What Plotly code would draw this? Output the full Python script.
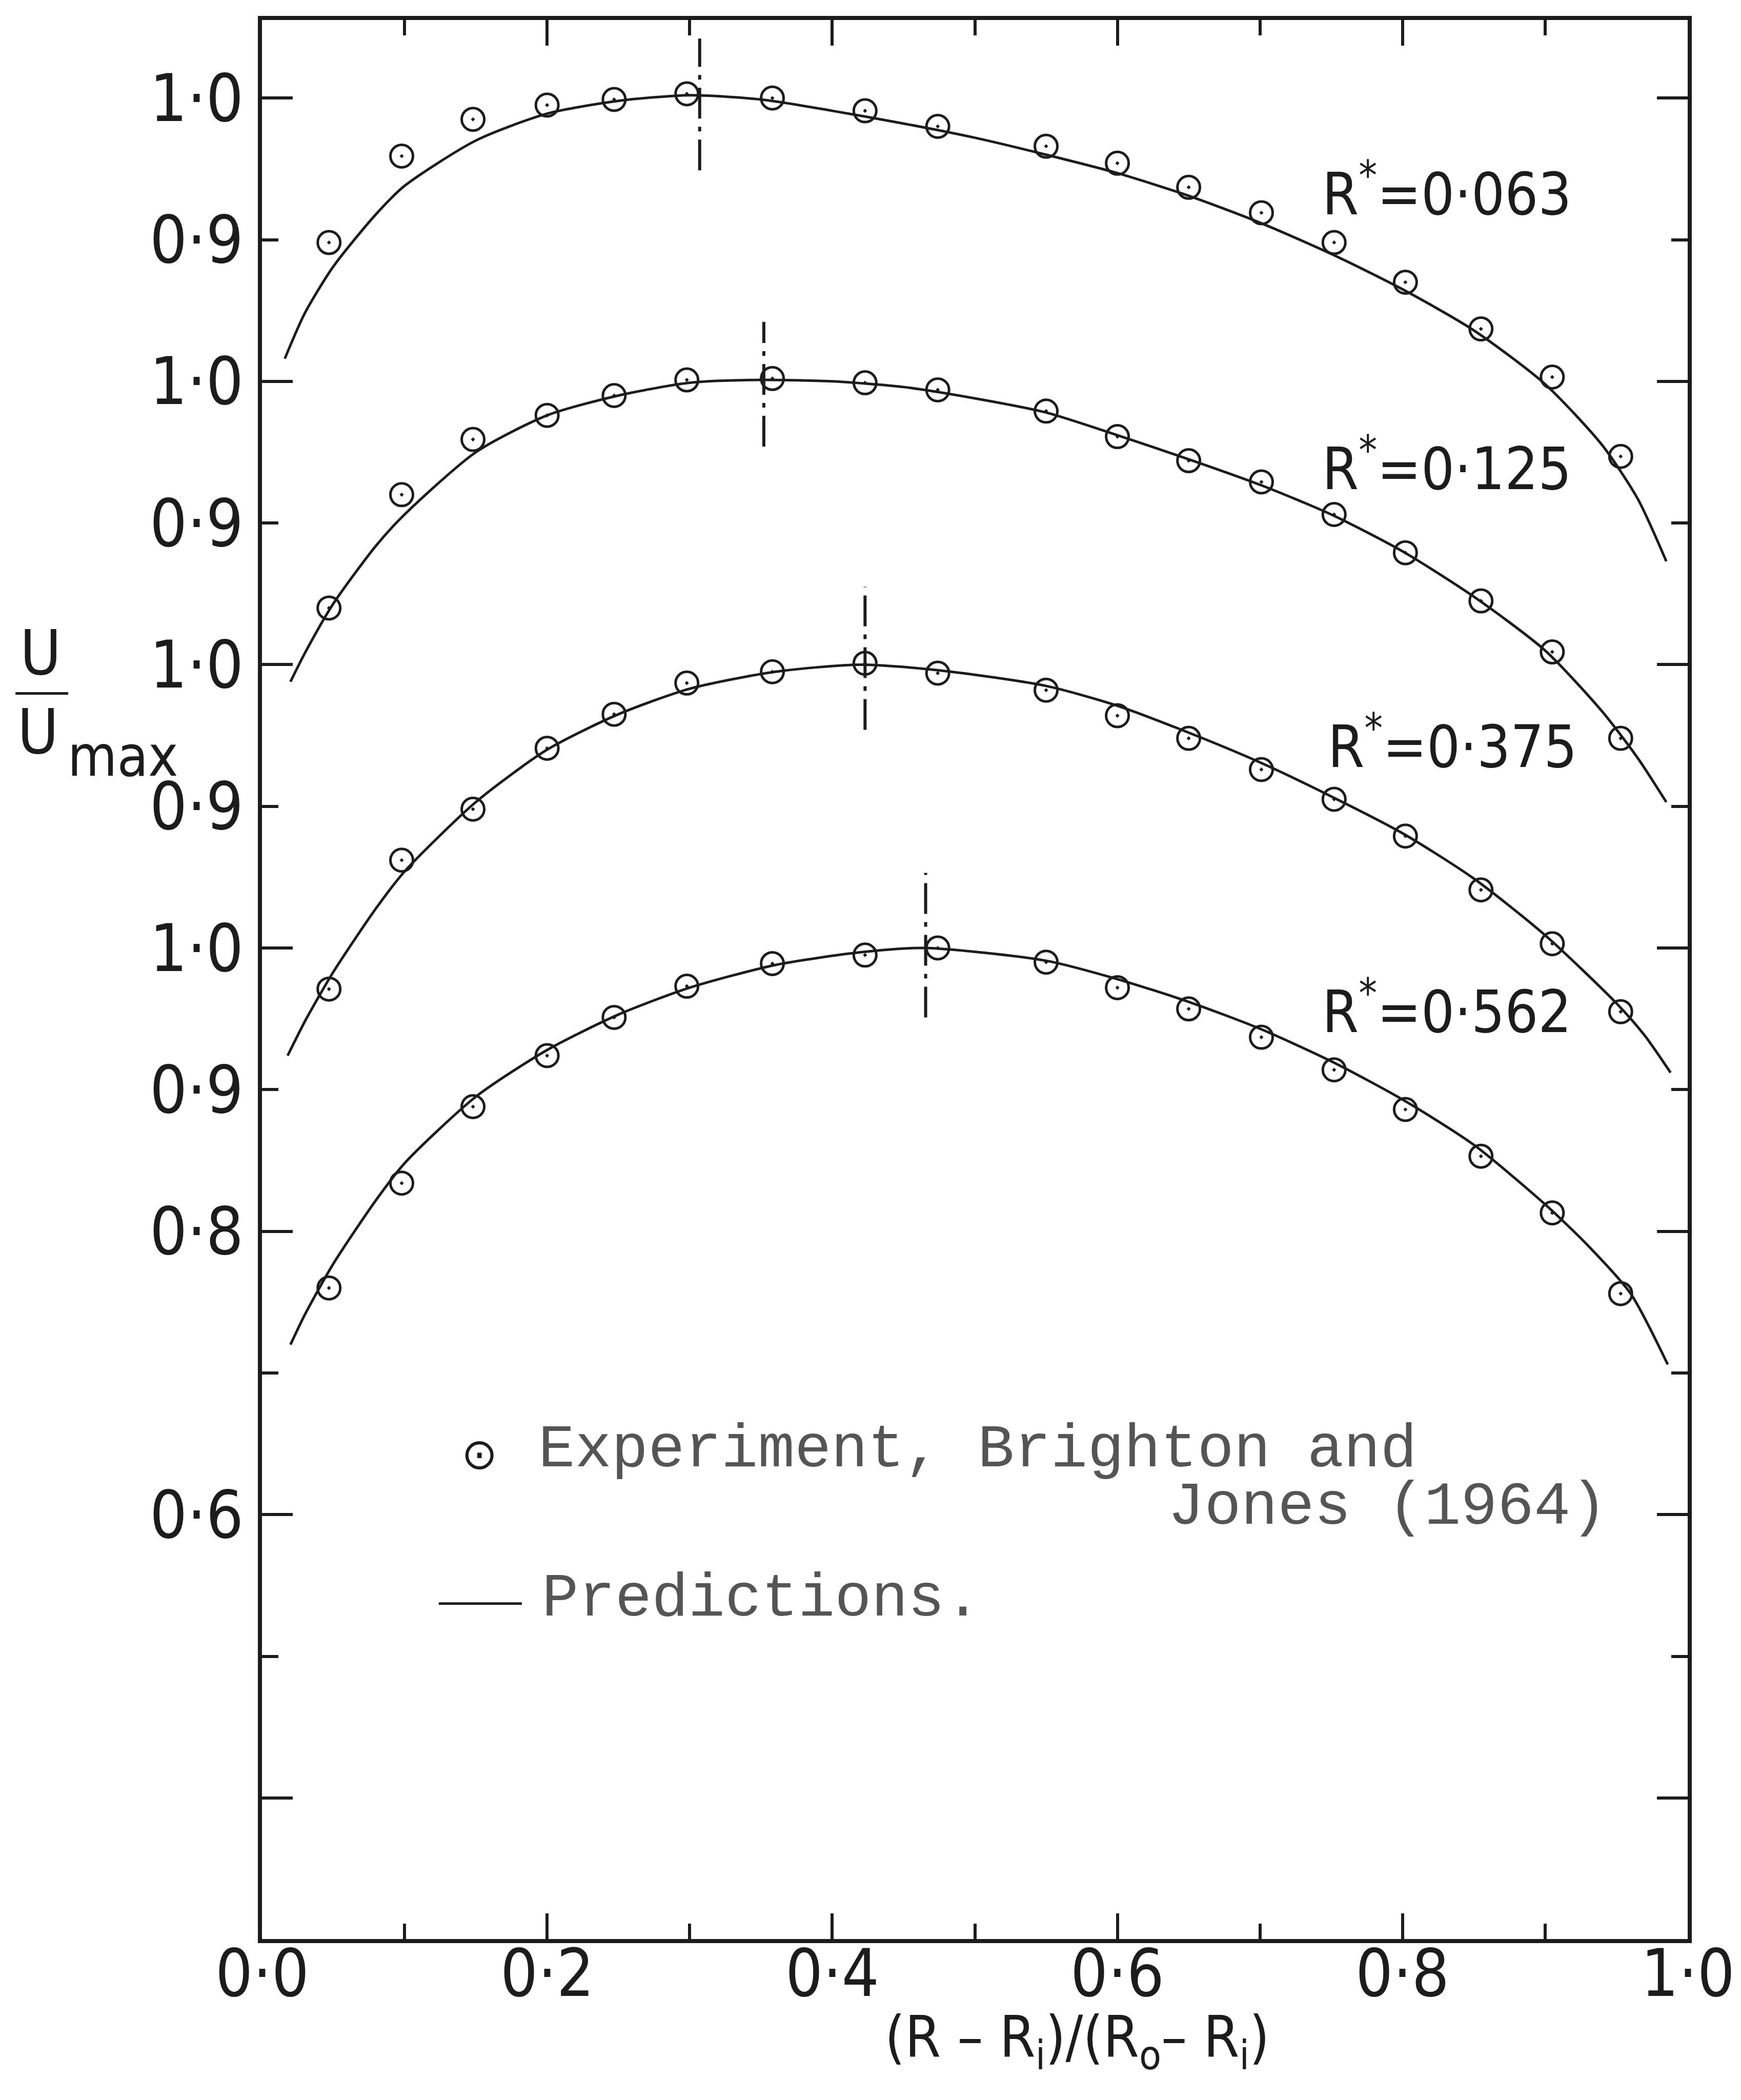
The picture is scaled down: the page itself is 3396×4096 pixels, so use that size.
import plotly.graph_objects as go

# ---------------- data ----------------
# radial position (R-Ri)/(Ro-Ri) of the measurements
x_exp = [0.047, 0.098, 0.148, 0.200, 0.247, 0.298, 0.358, 0.423, 0.474,
         0.550, 0.600, 0.650, 0.701, 0.752, 0.802, 0.855, 0.905, 0.953]

# experiment U/Umax for each radius ratio
u_exp_063 = [0.898, 0.959, 0.985, 0.995, 0.999, 1.003, 1.000, 0.991, 0.980,
             0.966, 0.954, 0.937, 0.919, 0.898, 0.870, 0.837, 0.803, 0.747]
u_exp_125 = [0.840, 0.920, 0.959, 0.976, 0.990, 1.001, 1.002, 0.999, 0.994,
             0.979, 0.961, 0.944, 0.929, 0.906, 0.879, 0.845, 0.809, 0.748]
u_exp_375 = [0.771, 0.862, 0.898, 0.941, 0.965, 0.987, 0.995, 1.001, 0.994,
             0.982, 0.964, 0.948, 0.926, 0.905, 0.879, 0.841, 0.803, 0.755]
u_exp_562 = [0.760, 0.834, 0.888, 0.924, 0.951, 0.973, 0.989, 0.995, 1.000,
             0.990, 0.972, 0.957, 0.937, 0.914, 0.886, 0.853, 0.813, 0.756]

# predictions
pred_x_063 = [0.016, 0.03, 0.05, 0.08, 0.10, 0.15, 0.20, 0.25, 0.30, 0.35, 0.40, 0.45,
              0.50, 0.55, 0.60, 0.65, 0.70, 0.75, 0.80, 0.85, 0.90, 0.94, 0.965, 0.985]
pred_u_063 = [0.816, 0.848, 0.881, 0.918, 0.938, 0.970, 0.989, 0.998, 1.002, 0.999, 0.991, 0.982,
              0.972, 0.960, 0.947, 0.931, 0.912, 0.890, 0.865, 0.836, 0.798, 0.755, 0.717, 0.673]
pred_x_125 = [0.020, 0.03, 0.05, 0.08, 0.10, 0.15, 0.20, 0.25, 0.30, 0.35, 0.40, 0.45,
              0.50, 0.55, 0.60, 0.65, 0.70, 0.75, 0.80, 0.85, 0.90, 0.94, 0.965, 0.985]
pred_u_125 = [0.788, 0.808, 0.843, 0.884, 0.906, 0.950, 0.976, 0.990, 0.999, 1.001, 1.000, 0.996,
              0.988, 0.978, 0.962, 0.945, 0.927, 0.906, 0.880, 0.848, 0.810, 0.767, 0.734, 0.703]
pred_x_375 = [0.018, 0.03, 0.05, 0.08, 0.10, 0.15, 0.20, 0.25, 0.30, 0.36, 0.42, 0.475,
              0.55, 0.60, 0.65, 0.70, 0.75, 0.80, 0.85, 0.90, 0.95, 0.97, 0.988]
pred_u_375 = [0.724, 0.748, 0.783, 0.828, 0.854, 0.903, 0.940, 0.965, 0.983, 0.995, 1.000, 0.996,
              0.985, 0.971, 0.952, 0.931, 0.907, 0.881, 0.849, 0.809, 0.761, 0.738, 0.712]
pred_x_562 = [0.020, 0.03, 0.05, 0.08, 0.10, 0.15, 0.20, 0.25, 0.30, 0.36, 0.42, 0.465,
              0.55, 0.60, 0.65, 0.70, 0.75, 0.80, 0.85, 0.90, 0.93, 0.96, 0.986]
pred_u_562 = [0.720, 0.741, 0.777, 0.822, 0.848, 0.895, 0.928, 0.953, 0.972, 0.988, 0.997, 1.000,
              0.991, 0.978, 0.962, 0.943, 0.920, 0.893, 0.861, 0.819, 0.790, 0.756, 0.706]

r_star_labels = ["R<sup>*</sup>=0·063", "R<sup>*</sup>=0·125", "R<sup>*</sup>=0·375", "R<sup>*</sup>=0·562"]
# vertical offset of each profile on the stacked U/Umax scale
offsets = [0.6, 0.4, 0.2, 0.0]
# position of maximum velocity (dash-dot markers) and their U/Umax extent
x_umax = [0.307, 0.352, 0.423, 0.4655]
umax_lo = [0.949, 0.954, 0.954, 0.951]
umax_hi = [1.042, 1.042, 1.055, 1.053]
# label positions (x, U/Umax of each profile)
label_x = [0.743, 0.743, 0.747, 0.743]
label_u = [0.935, 0.941, 0.945, 0.958]

x_major = [0.0, 0.2, 0.4, 0.6, 0.8, 1.0]
x_minor = [0.1, 0.3, 0.5, 0.7, 0.9]
x_ticktext = ["0·0", "0·2", "0·4", "0·6", "0·8", "1·0"]
y_major = [0.4, 0.6, 0.8, 1.0, 1.2, 1.4, 1.6]
y_minor = [0.5, 0.7, 0.9, 1.1, 1.3, 1.5]
y_labelvals = [0.6, 0.8, 0.9, 1.0, 1.1, 1.2, 1.3, 1.4, 1.5, 1.6]
y_labeltext = ["0·6", "0·8", "0·9", "1·0", "0·9", "1·0", "0·9", "1·0", "0·9", "1·0"]

# ---------------- figure ----------------
INK = "#1c1c1c"
LBL_FONT = "Liberation Sans Narrow, DejaVu Sans Condensed, Arial Narrow, sans-serif"
TYPE_FONT = "Liberation Mono, Courier New, DejaVu Sans Mono, monospace"

x_range = [0.0, 1.0]
y_range = [0.3004, 1.6551]


def py(v):
    """stacked-scale value -> paper fraction (for text outside the plot)"""
    return (v - y_range[0]) / (y_range[1] - y_range[0])


fig = go.Figure()

exp_sets = [u_exp_063, u_exp_125, u_exp_375, u_exp_562]
pred_sets = [(pred_x_063, pred_u_063), (pred_x_125, pred_u_125),
             (pred_x_375, pred_u_375), (pred_x_562, pred_u_562)]

for (px, pu), off in zip(pred_sets, offsets):
    fig.add_trace(go.Scatter(
        x=px, y=[u + off for u in pu], mode="lines",
        line=dict(color=INK, width=5, shape="spline", smoothing=0.7),
        hoverinfo="skip", showlegend=False))

for xm, lo, hi, off in zip(x_umax, umax_lo, umax_hi, offsets):
    fig.add_trace(go.Scatter(
        x=[xm, xm], y=[lo + off, hi + off], mode="lines",
        line=dict(color=INK, width=6, dash="60px,16px,9px,16px"),
        hoverinfo="skip", showlegend=False))

for ue, off in zip(exp_sets, offsets):
    fig.add_trace(go.Scatter(
        x=x_exp, y=[u + off for u in ue], mode="markers",
        marker=dict(symbol="circle-open-dot", size=44, color=INK,
                    line=dict(width=5, color=INK)),
        showlegend=False))

annotations = []
for txt, lx, lu, off in zip(r_star_labels, label_x, label_u, offsets):
    annotations.append(dict(
        x=lx, y=lu + off, xref="x", yref="y", text=txt, showarrow=False,
        xanchor="left", yanchor="middle",
        font=dict(family=LBL_FONT, size=114, color=INK)))

# x tick labels (on the x scale, just below the frame)
for tv, tt in zip(x_major, x_ticktext):
    annotations.append(dict(
        x=tv, y=py(0.2764), xref="x", yref="paper", text=tt, showarrow=False,
        xanchor="center", yanchor="middle",
        font=dict(family=LBL_FONT, size=128, color=INK)))

# y tick labels (on the y scale, just left of the frame)
for tv, tt in zip(y_labelvals, y_labeltext):
    annotations.append(dict(
        x=-0.0122, y=tv, xref="paper", yref="y", text=tt, showarrow=False,
        xanchor="right", yanchor="middle",
        font=dict(family=LBL_FONT, size=128, color=INK)))

# y-axis title as a fraction U / Umax (paper coordinates, left of the plot)
annotations += [
    dict(x=-0.1553, y=py(1.2084), xref="paper", yref="paper", text="U", showarrow=False,
         xanchor="center", yanchor="middle",
         font=dict(family=LBL_FONT, size=122, color=INK)),
    dict(x=-0.1572, y=py(1.1527), xref="paper", yref="paper", text="U", showarrow=False,
         xanchor="center", yanchor="middle",
         font=dict(family=LBL_FONT, size=122, color=INK)),
    dict(x=-0.0975, y=py(1.1355), xref="paper", yref="paper", text="max", showarrow=False,
         xanchor="center", yanchor="middle",
         font=dict(family=LBL_FONT, size=110, color=INK)),
]
# x-axis title
annotations.append(dict(
    x=0.5716, y=py(0.2282), xref="paper", yref="paper",
    text="(R – R<sub>i</sub>)/(R<sub>o</sub>– R<sub>i</sub>)", showarrow=False,
    xanchor="center", yanchor="middle",
    font=dict(family=LBL_FONT, size=112, color=INK)))
# legend
annotations += [
    dict(x=0.1525, y=0.6428, xref="x", yref="y", text="⊙", showarrow=False,
         xanchor="center", yanchor="middle",
         font=dict(family="DejaVu Sans", size=84, color=INK)),
    dict(x=0.1932, y=0.6456, xref="x", yref="y", text="Experiment, Brighton and",
         showarrow=False, xanchor="left", yanchor="middle",
         font=dict(family=TYPE_FONT, size=119, color="#555555")),
    dict(x=0.6348, y=0.6049, xref="x", yref="y", text="Jones (1964)",
         showarrow=False, xanchor="left", yanchor="middle",
         font=dict(family=TYPE_FONT, size=119, color="#555555")),
    dict(x=0.1957, y=0.5403, xref="x", yref="y", text="Predictions.",
         showarrow=False, xanchor="left", yanchor="middle",
         font=dict(family=TYPE_FONT, size=119, color="#555555")),
]

shapes = [
    dict(type="line", xref="paper", yref="paper", x0=-0.1729, x1=-0.1359,
         y0=py(1.1797), y1=py(1.1797), line=dict(color=INK, width=5)),
    dict(type="line", xref="x", yref="y", x0=0.124, x1=0.1823, y0=0.5372, y1=0.5372,
         line=dict(color=INK, width=5)),
]

fig.update_layout(
    width=3396, height=4096,
    margin=dict(l=511, r=104, t=39, b=314, autoexpand=False),
    paper_bgcolor="white", plot_bgcolor="white", showlegend=False,
    annotations=annotations, shapes=shapes,
    xaxis=dict(range=x_range, tickmode="array", tickvals=x_major,
               ticks="inside", ticklen=50, tickwidth=6, tickcolor=INK,
               minor=dict(tickmode="array", tickvals=x_minor, ticks="inside",
                          ticklen=30, tickwidth=6, tickcolor=INK),
               showline=True, linewidth=8, linecolor=INK, mirror="allticks",
               showgrid=False, zeroline=False, showticklabels=False),
    yaxis=dict(range=y_range, tickmode="array", tickvals=y_major,
               ticks="inside", ticklen=60, tickwidth=6, tickcolor=INK,
               minor=dict(tickmode="array", tickvals=y_minor, ticks="inside",
                          ticklen=32, tickwidth=6, tickcolor=INK),
               showline=True, linewidth=8, linecolor=INK, mirror="allticks",
               showgrid=False, zeroline=False, showticklabels=False),
)

fig.write_html("out.html")
